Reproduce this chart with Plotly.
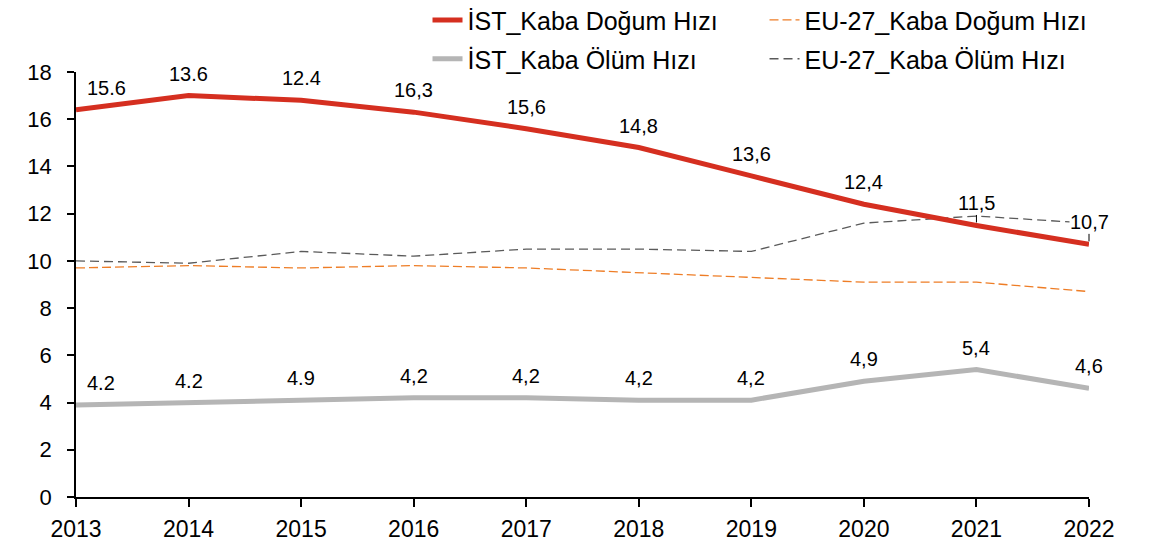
import plotly.graph_objects as go

years = [2013, 2014, 2015, 2016, 2017, 2018, 2019, 2020, 2021, 2022]

ist_birth = [16.4, 17.0, 16.8, 16.3, 15.6, 14.8, 13.6, 12.4, 11.5, 10.7]
ist_death = [3.9, 4.0, 4.1, 4.2, 4.2, 4.1, 4.1, 4.9, 5.4, 4.6]
eu_birth = [9.7, 9.8, 9.7, 9.8, 9.7, 9.5, 9.3, 9.1, 9.1, 8.7]
eu_death = [10.0, 9.9, 10.4, 10.2, 10.5, 10.5, 10.4, 11.6, 11.9, 11.6]

ist_birth_labels = ["15.6", "13.6", "12.4", "16,3", "15,6", "14,8", "13,6", "12,4", "11,5", "10,7"]
ist_death_labels = ["4.2", "4.2", "4.9", "4,2", "4,2", "4,2", "4,2", "4,9", "5,4", "4,6"]

names = ["İST_Kaba Doğum Hızı", "EU-27_Kaba Doğum Hızı", "İST_Kaba Ölüm Hızı", "EU-27_Kaba Ölüm Hızı"]

FONT = "Liberation Sans, Arial, sans-serif"
RED = "#D52F20"
LGRAY = "#B5B5B5"
ORANGE = "#EE7D26"
DGRAY = "#5A5A5A"

fig = go.Figure()
fig.add_trace(go.Scatter(x=years, y=eu_death, mode="lines", name=names[3],
                         line=dict(color=DGRAY, width=1.3, dash="9px,5px"),
                         legend="legend2", legendrank=2))
fig.add_trace(go.Scatter(x=years, y=eu_birth, mode="lines", name=names[1],
                         line=dict(color=ORANGE, width=1.3, dash="9px,4px"),
                         legend="legend", legendrank=2))
fig.add_trace(go.Scatter(x=years, y=ist_death, mode="lines", name=names[2],
                         line=dict(color=LGRAY, width=5),
                         legend="legend2", legendrank=1))
fig.add_trace(go.Scatter(x=years, y=ist_birth, mode="lines", name=names[0],
                         line=dict(color=RED, width=5),
                         legend="legend", legendrank=1))

annotations = []
for i, (x, y, t) in enumerate(zip(years, ist_birth, ist_birth_labels)):
    leader = i >= 8
    annotations.append(dict(
        x=x, y=y, text=t, showarrow=True, ax=(30 if i == 0 else 0), ay=-22,
        arrowhead=0, arrowwidth=1,
        arrowcolor=("#000000" if leader else "rgba(0,0,0,0)"),
        standoff=3, bgcolor="white", borderpad=0,
        font=dict(family=FONT, size=20, color="#000000")))
for i, (x, y, t) in enumerate(zip(years, ist_death, ist_death_labels)):
    annotations.append(dict(
        x=x, y=y, text=t, showarrow=True, ax=(25 if i == 0 else 0), ay=-22,
        arrowhead=0, arrowcolor="rgba(0,0,0,0)",
        font=dict(family=FONT, size=20, color="#000000")))

legend_common = dict(orientation="h", yanchor="top", xanchor="left",
                     font=dict(family=FONT, size=25, color="#000000"),
                     bgcolor="rgba(0,0,0,0)", itemwidth=30,
                     entrywidth=292, traceorder="normal")

fig.update_layout(
    # the page adds an 8px body margin, so the figure is 8px smaller
    width=1144, height=536,
    margin=dict(l=68, r=63, t=64, b=47, autoexpand=False),
    paper_bgcolor="white", plot_bgcolor="white",
    font=dict(family=FONT, color="#000000"),
    showlegend=True,
    legend=dict(x=0.347, y=1.176, **legend_common),
    legend2=dict(x=0.347, y=1.0847, **legend_common),
    annotations=annotations,
    xaxis=dict(range=[2013, 2022], tickmode="array", tickvals=years,
               ticktext=[str(y) for y in years], automargin=False,
               showgrid=False, zeroline=False, showline=True,
               linecolor="#000000", linewidth=1.5,
               ticks="outside", ticklen=8, tickwidth=1.5, tickcolor="#000000",
               tickfont=dict(family=FONT, size=23, color="#000000"),
               ticklabelstandoff=3),
    yaxis=dict(range=[0, 18], dtick=2, showgrid=False, zeroline=False,
               automargin=False,
               showline=True, linecolor="#000000", linewidth=1.5,
               ticks="outside", ticklen=7, tickwidth=1.5, tickcolor="#000000",
               tickfont=dict(family=FONT, size=22, color="#000000"),
               ticklabelstandoff=11),
)

fig.write_html("out.html")
